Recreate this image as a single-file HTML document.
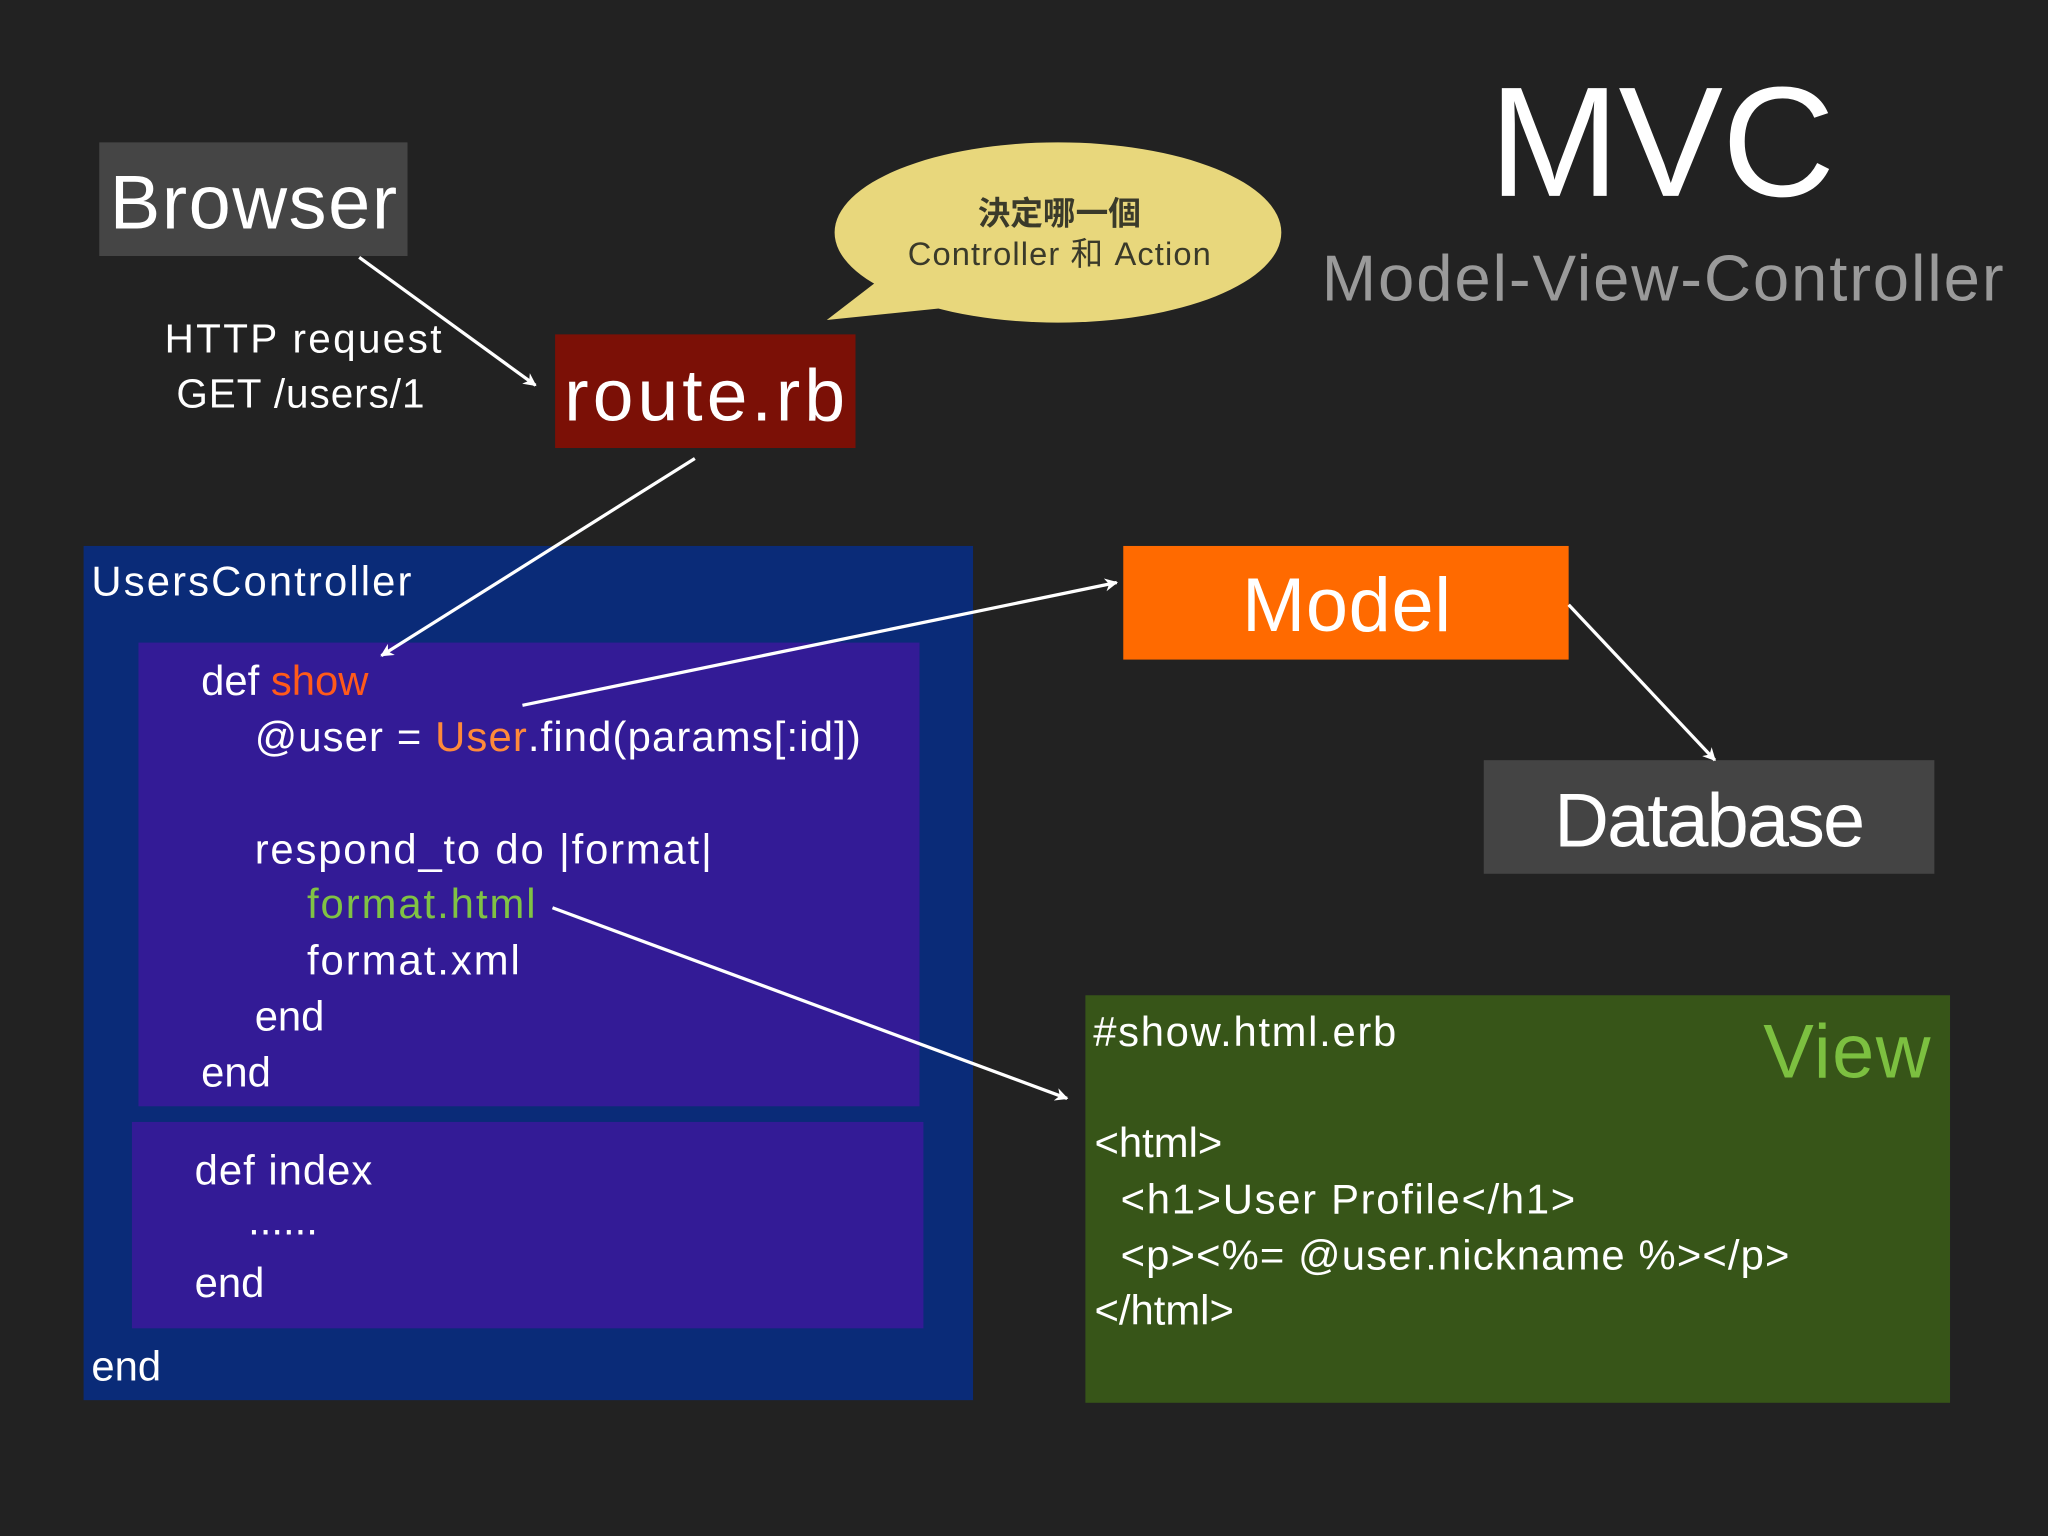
<!DOCTYPE html>
<html><head><meta charset="utf-8"><style>
html,body{margin:0;padding:0;background:#212121;}
svg{display:block}
text{font-family:"Liberation Sans","Noto Sans CJK TC",sans-serif;}
</style></head><body>
<svg width="2048" height="1536" viewBox="0 0 1568 1176" xmlns="http://www.w3.org/2000/svg">
<defs>
<marker id="a" markerWidth="10" markerHeight="10" refX="9" refY="5" orient="auto" markerUnits="userSpaceOnUse" viewBox="0 0 10 10">
<path d="M0,0 L10,5 L0,10 L3,5 z" fill="#fff"/></marker>
</defs>
<rect width="1568" height="1176" fill="#222"/>
<!-- Browser -->
<rect x="76" y="109" width="236" height="87" fill="#454545"/>
<text x="84" y="175" font-size="58" fill="#fff" textLength="220">Browser</text>
<text x="126" y="270" font-size="31" fill="#fff" textLength="212">HTTP request</text>
<text x="135" y="312" font-size="31" fill="#fff" textLength="190">GET /users/1</text>
<line x1="275" y1="197" x2="410" y2="295" stroke="#fff" stroke-width="2.5" marker-end="url(#a)"/>
<!-- route.rb -->
<rect x="425" y="256" width="230" height="87" fill="#7b1006"/>
<text x="432" y="322" font-size="56" fill="#fff" textLength="215">route.rb</text>
<!-- bubble -->
<polygon points="633,245 685,205 730,235" fill="#e8d77c"/>
<ellipse cx="810" cy="178" rx="171" ry="69" fill="#e8d77c"/>
<text x="811" y="172" font-size="25" fill="#3a3a2a" text-anchor="middle" font-weight="bold">決定哪一個</text>
<text x="811" y="203" font-size="25" fill="#3a3a2a" text-anchor="middle" textLength="232">Controller 和 Action</text>
<!-- title -->
<text x="1140" y="150" font-size="120" fill="#fff" textLength="265">MVC</text>
<text x="1012" y="230" font-size="50" fill="#9a9a9a" textLength="522">Model-View-Controller</text>
<!-- controller -->
<rect x="64" y="418" width="681" height="654" fill="#0a2b78"/>
<rect x="106" y="492" width="598" height="355" fill="#331b96"/>
<rect x="101" y="859" width="606" height="158" fill="#331b96"/>
<g font-size="32" fill="#fff">
<text x="70" y="456" textLength="245">UsersController</text>
<text x="154" y="532">def <tspan fill="#ff5a1a">show</tspan></text>
<text x="195" y="575" textLength="464">@user = <tspan fill="#ff8a3a">User</tspan>.find(params[:id])</text>
<text x="195" y="661" textLength="350">respond_to do |format|</text>
<text x="235" y="703" fill="#80c244" textLength="175">format.html</text>
<text x="235" y="746" textLength="163">format.xml</text>
<text x="195" y="789">end</text>
<text x="154" y="832">end</text>
<text x="149" y="907" textLength="136">def index</text>
<text x="190" y="945">......</text>
<text x="149" y="993">end</text>
<text x="70" y="1057">end</text>
</g>
<!-- Model -->
<rect x="860" y="418" width="341" height="87" fill="#ff6a00"/>
<text x="1031" y="483" font-size="58" fill="#fff" text-anchor="middle" textLength="160">Model</text>
<!-- Database -->
<rect x="1136" y="582" width="345" height="87" fill="#444"/>
<text x="1309" y="648" font-size="58" fill="#fff" text-anchor="middle" textLength="238">Database</text>
<!-- View -->
<rect x="831" y="762" width="662" height="312" fill="#375518"/>
<g font-size="32" fill="#fff">
<text x="837" y="801" textLength="232">#show.html.erb</text>
<text x="838" y="886">&lt;html&gt;</text>
<text x="858" y="929" textLength="348">&lt;h1&gt;User Profile&lt;/h1&gt;</text>
<text x="858" y="972" textLength="512">&lt;p&gt;&lt;%= @user.nickname %&gt;&lt;/p&gt;</text>
<text x="838" y="1014">&lt;/html&gt;</text>
</g>
<text x="1350" y="825" font-size="58" fill="#7cc040" textLength="128">View</text>
<!-- arrows -->
<g stroke="#fff" stroke-width="2.5" fill="none">
<line x1="532" y1="351" x2="292" y2="502" marker-end="url(#a)"/>
<line x1="400" y1="540" x2="855" y2="446" marker-end="url(#a)"/>
<line x1="1201" y1="463" x2="1313" y2="582" marker-end="url(#a)"/>
<line x1="423" y1="695" x2="817" y2="841" marker-end="url(#a)"/>
</g>
</svg>
</body></html>
